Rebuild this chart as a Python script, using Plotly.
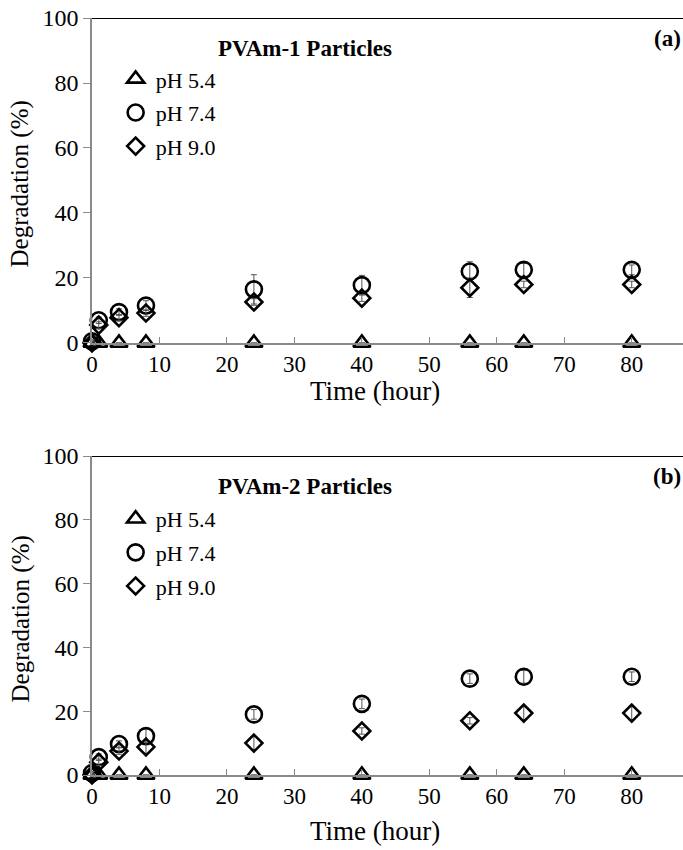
import plotly.graph_objects as go

# ---- data ----
time_h = [0, 1, 4, 8, 24, 40, 56, 64, 80]

a_ph54 = [0, 0, 0, 0, 0, 0, 0, 0, 0]
a_ph54_err = [0, 0, 0, 0, 0, 0, 0, 0, 0]
a_ph74 = [0.5, 7.0, 9.5, 11.5, 16.5, 17.8, 22.0, 22.5, 22.5]
a_ph74_err = [0.5, 1.0, 1.0, 1.5, 4.5, 3.0, 3.0, 2.0, 1.5]
a_ph90 = [0.0, 5.5, 7.8, 9.2, 12.6, 13.8, 17.0, 18.0, 18.0]
a_ph90_err = [0.5, 1.0, 1.0, 1.0, 1.0, 1.0, 3.0, 1.0, 1.0]

b_ph54 = [0, 0, 0, 0, 0, 0, 0, 0, 0]
b_ph54_err = [0, 0, 0, 0, 0, 0, 0, 0, 0]
b_ph74 = [0.6, 5.6, 9.7, 12.2, 19.0, 22.3, 30.2, 30.8, 30.8]
b_ph74_err = [0.5, 1.0, 1.0, 2.5, 1.5, 1.5, 1.5, 2.0, 1.5]
b_ph90 = [0.0, 4.0, 7.5, 8.8, 10.0, 13.8, 17.0, 19.4, 19.4]
b_ph90_err = [0.5, 1.0, 1.0, 2.0, 2.0, 1.0, 1.0, 2.0, 2.0]

series_names = ["pH 5.4", "pH 7.4", "pH 9.0"]
x_ticks = [0, 10, 20, 30, 40, 50, 60, 70, 80]
y_ticks = [0, 20, 40, 60, 80, 100]
panel_titles = ["PVAm-1 Particles", "PVAm-2 Particles"]
panel_tags = ["(a)", "(b)"]
x_title = "Time (hour)"
y_title = "Degradation (%)"

FONT = "Liberation Serif"
symbols = ["triangle-up-open", "circle-open", "diamond-open"]
sizes = [15, 16, 13]

fig = go.Figure()

panels = [
    ([a_ph54, a_ph74, a_ph90], [a_ph54_err, a_ph74_err, a_ph90_err], "x", "y", "legend"),
    ([b_ph54, b_ph74, b_ph90], [b_ph54_err, b_ph74_err, b_ph90_err], "x2", "y2", "legend2"),
]
for vals, errs, xa, ya, lg in panels:
    for i in range(3):
        fig.add_trace(go.Scatter(
            x=time_h, y=vals[i], mode="markers", name=series_names[i],
            xaxis=xa, yaxis=ya, legend=lg, legendgroup=lg + str(i),
            cliponaxis=False,
            error_y=dict(type="data", array=errs[i], visible=True,
                         color="#555555", thickness=1, width=3),
            marker=dict(symbol=symbols[i], size=sizes[i], color="black",
                        line=dict(color="black", width=2.6)),
        ))

def xaxis_cfg(anchor):
    return dict(domain=[0, 1], range=[0, 87.6], anchor=anchor,
                tickvals=x_ticks, ticks="inside", ticklen=6, tickcolor="#8a8a8a",
                showgrid=False, zeroline=False, showline=True,
                linecolor="#8a8a8a", linewidth=1.5,
                tickfont=dict(family=FONT, size=23, color="black"))

def yaxis_cfg(anchor, dom):
    return dict(domain=dom, range=[0, 100], anchor=anchor,
                tickvals=y_ticks, ticks="outside", ticklen=7, tickcolor="#8a8a8a",
                showgrid=False, zeroline=False, showline=True,
                linecolor="#8a8a8a", linewidth=1.5,
                tickfont=dict(family=FONT, size=24, color="black"))

fig.update_layout(
    width=683, height=850,
    margin=dict(l=92, r=0, t=18, b=75),
    paper_bgcolor="white", plot_bgcolor="white",
    font=dict(family=FONT, color="black"),
    showlegend=True,
    xaxis=xaxis_cfg("y"),
    yaxis=yaxis_cfg("x", [0.5707, 1]),
    xaxis2=xaxis_cfg("y2"),
    yaxis2=yaxis_cfg("x2", [0, 0.4214]),
    legend=dict(x=0.04, y=0.947, xanchor="left", yanchor="top",
                traceorder="grouped", tracegroupgap=2, bgcolor="rgba(0,0,0,0)",
                font=dict(family=FONT, size=22, color="black"), itemwidth=30),
    legend2=dict(x=0.04, y=0.366, xanchor="left", yanchor="top",
                 traceorder="grouped", tracegroupgap=2, bgcolor="rgba(0,0,0,0)",
                 font=dict(family=FONT, size=22, color="black"), itemwidth=30),
)

# top border line at 100 for each panel
for xr, yr in [("x", "y"), ("x2", "y2")]:
    fig.add_shape(type="line", xref=xr + " domain", yref=yr, x0=0, x1=1, y0=100, y1=100,
                  line=dict(color="black", width=2))

def py(p):
    return (775 - p) / 757

def px(p):
    return (p - 92) / 591

ann = []
for k, (ytop_px, ybot_px, xt_off) in enumerate([(18, 343, 48), (456, 775, 56)]):
    ann.append(dict(text="<b>" + panel_titles[k] + "</b>", xref="paper", yref="paper",
                    x=px(305), y=py(ytop_px + 30), xanchor="center", yanchor="middle",
                    showarrow=False, font=dict(family=FONT, size=23, color="black")))
    ann.append(dict(text="<b>" + panel_tags[k] + "</b>", xref="paper", yref="paper",
                    x=1.0, xanchor="right", y=py(ytop_px + 20), yanchor="middle",
                    showarrow=False, font=dict(family=FONT, size=23, color="black")))
    ann.append(dict(text=x_title, xref="paper", yref="paper",
                    x=px(375), y=py(ybot_px + xt_off), xanchor="center", yanchor="middle",
                    showarrow=False, font=dict(family=FONT, size=27, color="black")))
    ann.append(dict(text=y_title, xref="paper", yref="paper", textangle=-90,
                    x=px(20), y=py((ytop_px + ybot_px) / 2 + 4), xanchor="center", yanchor="middle",
                    showarrow=False, font=dict(family=FONT, size=25, color="black")))
fig.update_layout(annotations=ann)

fig.write_html("out.html")
